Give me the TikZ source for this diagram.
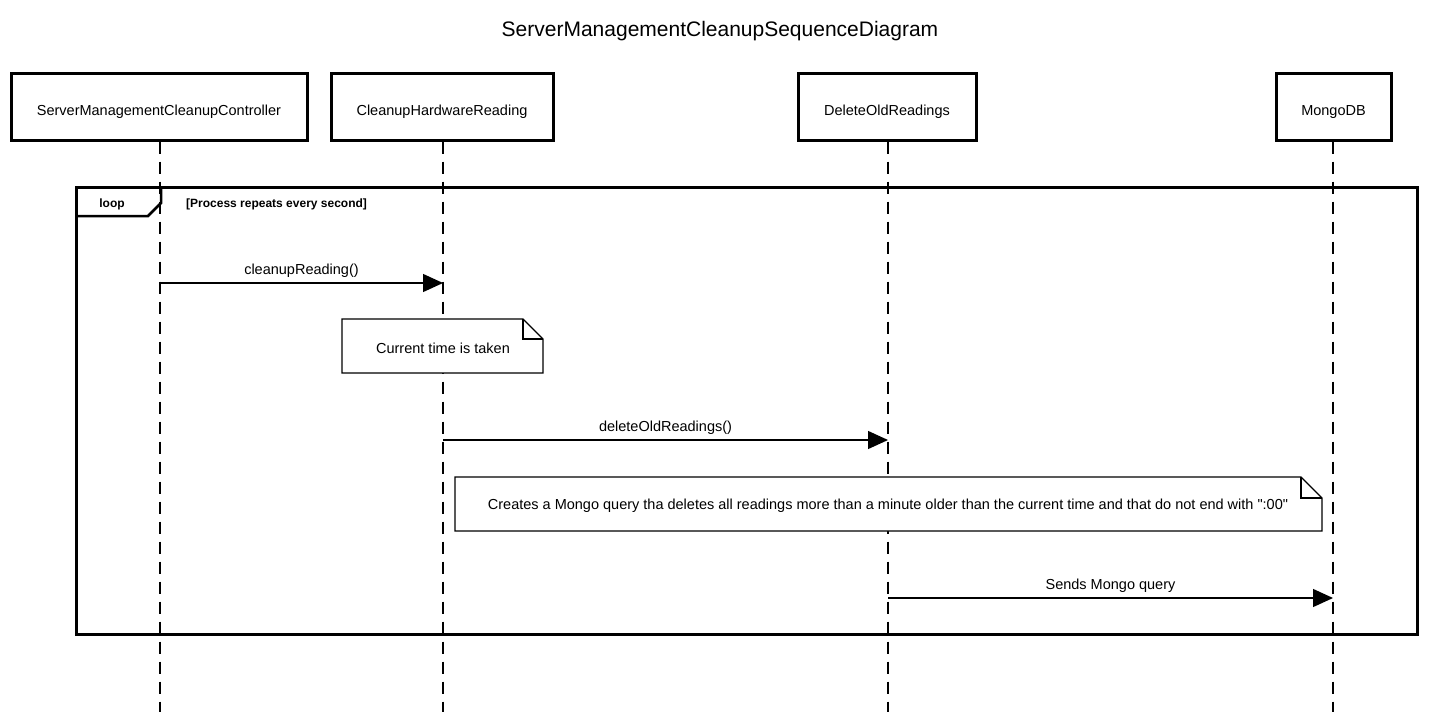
\documentclass[tikz,border=0pt]{standalone}
\usepackage{fontspec}
\setmainfont{Liberation Sans}[Ligatures=TeXOff]
\usetikzlibrary{arrows.meta}
\begin{document}
\begin{tikzpicture}[x=1pt,y=-1pt,
  actor/.style={draw,line width=3pt,minimum height=66pt,inner sep=0pt,text height=16.6pt,text depth=0pt,font=\fontsize{14.5}{17}\selectfont},
  lifeline/.style={line width=1.6pt,dash pattern=on 12pt off 8pt},
  msg/.style={line width=1.3pt,-{Triangle[length=20pt,width=18pt]}},
  lbl/.style={font=\fontsize{14.5}{17}\selectfont,inner sep=0pt},
  notebox/.style={line width=1.3pt,fill=white},
  frame/.style={line width=3pt}]
\useasboundingbox (0,0) rectangle (1441,717);
\node[font=\fontsize{21}{24}\selectfont] (title) at (720,31) {ServerManagementCleanupSequenceDiagram};
% actors
\node[actor,minimum width=296pt] (a1) at (159,107) {ServerManagementCleanupController};
\node[actor,minimum width=222pt] (a2) at (442,107) {CleanupHardwareReading};
\node[actor,minimum width=178pt] (a3) at (887,107) {DeleteOldReadings};
\node[actor,minimum width=115pt] (a4) at (1333.5,107) {MongoDB};
% lifeline ends
\coordinate (e1) at (160,712);
\coordinate (e2) at (443,712);
\coordinate (e3) at (888,712);
\coordinate (e4) at (1333,712);
\draw[lifeline] (a1.south -| e1) -- (e1);
\draw[lifeline] (a2.south -| e2) -- (e2);
\draw[lifeline] (a3.south -| e3) -- (e3);
\draw[lifeline] (a4.south -| e4) -- (e4);
% loop frame
\draw[frame] (76,187) rectangle (1417,634);
\draw[line width=2.5pt] (76,216) -- (148,216) -- (161,203) -- (161,187);
\node[font=\bfseries\fontsize{12}{14}\selectfont,inner sep=0pt] (looplbl) at (112,204) {loop};
\node[font=\bfseries\fontsize{12}{14}\selectfont,inner sep=0pt,anchor=west] (guard) at (186,204) {[Process repeats every second]};
% message 1
\coordinate (m1s) at (160,283);
\coordinate (m1e) at (443,283);
\draw[msg] (m1s) -- (m1e);
\node[lbl] (l1) at (301.5,271) {cleanupReading()};
% note 1
\draw[notebox] (342,319) -- (523,319) -- (543,339) -- (543,373) -- (342,373) -- cycle;
\draw[line width=1.3pt] (523,319) -- (523,339) -- (543,339);
\node[lbl] (n1) at (443,348) {Current time is taken};
% message 2
\coordinate (m2s) at (443,440);
\coordinate (m2e) at (888,440);
\draw[msg] (m2s) -- (m2e);
\node[lbl] (l2) at (665.5,428) {deleteOldReadings()};
% note 2
\draw[notebox] (455,477) -- (1301,477) -- (1322,498) -- (1322,531) -- (455,531) -- cycle;
\draw[line width=1.3pt] (1301,477) -- (1301,498) -- (1322,498);
\node[lbl] (n2) at (888,506) {Creates a Mongo query tha deletes all readings more than a minute older than the current time and that do not end with ":00"};
% message 3
\coordinate (m3s) at (888,598);
\coordinate (m3e) at (1333,598);
\draw[msg] (m3s) -- (m3e);
\node[lbl] (l3) at (1110.5,586) {Sends Mongo query};
\end{tikzpicture}
\end{document}
